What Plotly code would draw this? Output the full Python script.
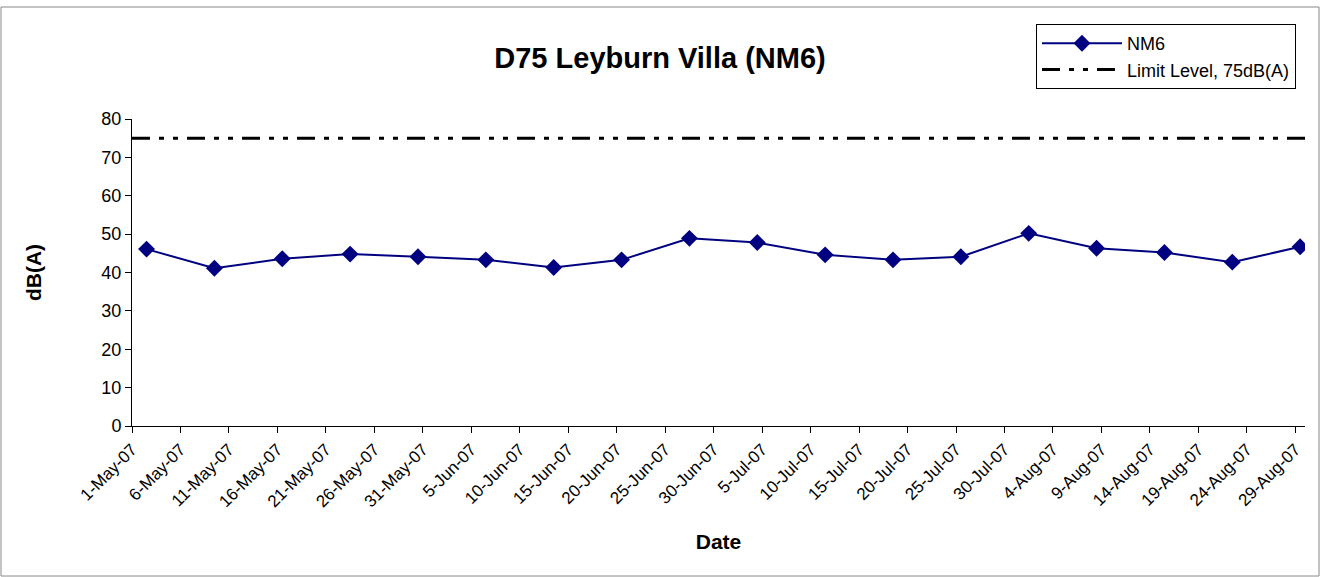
import pandas as pd
import plotly.graph_objects as go

# Data
dates = ["2007-05-02", "2007-05-09", "2007-05-16", "2007-05-23", "2007-05-30", "2007-06-06",
         "2007-06-13", "2007-06-20", "2007-06-27", "2007-07-04", "2007-07-11", "2007-07-18",
         "2007-07-25", "2007-08-01", "2007-08-08", "2007-08-15", "2007-08-22", "2007-08-29"]
nm6 = [46.1, 41.1, 43.6, 44.8, 44.1, 43.3, 41.3, 43.3, 48.9, 47.8, 44.6, 43.3,
       44.1, 50.2, 46.3, 45.2, 42.7, 46.7]
limit_level = 75
axis_start = "2007-05-01"
axis_end = "2007-08-30"
tick_dates = pd.date_range("2007-05-01", "2007-08-29", freq="5D")

# Excel date axis centres each day between ticks
x_pts = pd.to_datetime(dates) + pd.Timedelta(hours=12)

L, R, T, B = 132, 15, 119, 151
W, H = 1320, 577
pw, ph = W - L - R, H - T - B

fig = go.Figure()
fig.add_trace(go.Scatter(
    x=x_pts, y=nm6, mode="lines+markers", name="NM6",
    line=dict(color="#000080", width=2),
    marker=dict(symbol="diamond", size=13, color="#000080"),
))
fig.add_trace(go.Scatter(
    x=[axis_start, axis_end], y=[limit_level, limit_level], mode="lines",
    name="Limit Level, 75dB(A)",
    line=dict(color="black", width=3, dash="18px,9px,5px,9px,5px,9px"),
))

font = "Arial, Liberation Sans, sans-serif"
fig.update_layout(
    width=W, height=H,
    margin=dict(l=L, r=R, t=T, b=B, autoexpand=False),
    paper_bgcolor="white", plot_bgcolor="white",
    font=dict(family=font, color="black"),
    title=dict(text="<b>D75 Leyburn Villa (NM6)</b>", x=(660 - L) / pw, xanchor="center", xref="paper",
               y=1 - 58 / H, yanchor="middle", font=dict(size=29)),
    showlegend=True,
    legend=dict(x=(1036 - L) / pw, y=(H - B - 24) / ph, xanchor="left", yanchor="top",
                bordercolor="black", borderwidth=1, bgcolor="white",
                font=dict(size=18), tracegroupgap=0, itemwidth=80),
    xaxis=dict(
        range=[axis_start, axis_end], tickvals=tick_dates, tickformat="%-d-%b-%y",
        tickangle=-45, ticks="outside", ticklen=6, tickcolor="black",
        showline=True, linecolor="black", linewidth=1, showgrid=False, zeroline=False,
        tickfont=dict(size=17), automargin=False,
        title=dict(text="<b>Date</b>", font=dict(size=21), standoff=24),
    ),
    yaxis=dict(
        range=[0, 80], dtick=10, ticks="outside", ticklen=6, tickcolor="black",
        showline=True, linecolor="black", linewidth=1, showgrid=False, zeroline=False,
        tickfont=dict(size=18), automargin=False,
        title=dict(text="<b>dB(A)</b>", font=dict(size=21), standoff=54),
    ),
    shapes=[dict(type="rect", xref="paper", yref="paper",
                 x0=(1 - L) / pw, x1=(W - 1 - L) / pw,
                 y0=(H - B - (H - 1)) / ph, y1=(H - B - 7) / ph,
                 line=dict(color="#888888", width=1), fillcolor="rgba(0,0,0,0)", layer="below")],
)

fig.write_html("out.html", config={"displayModeBar": False},
               post_script="document.body.style.margin='0';document.body.style.overflow='hidden';")
